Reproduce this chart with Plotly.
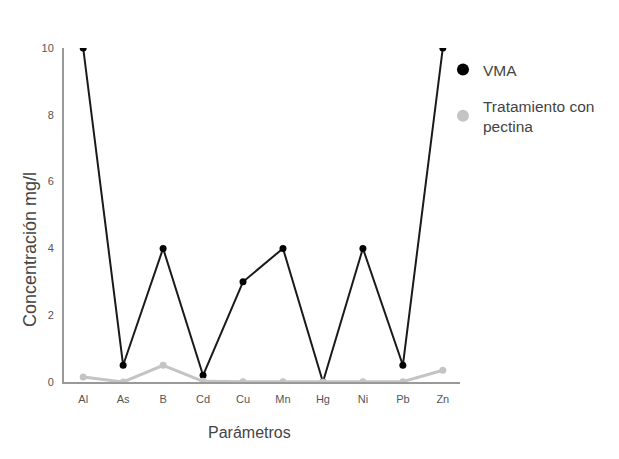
import plotly.graph_objects as go

categories = ["Al", "As", "B", "Cd", "Cu", "Mn", "Hg", "Ni", "Pb", "Zn"]
vma = [10, 0.5, 4, 0.2, 3, 4, 0.0, 4, 0.5, 10]
pectina = [0.15, 0.0, 0.5, 0.02, 0.01, 0.01, 0.0, 0.01, 0.01, 0.35]
y_ticks = [0, 2, 4, 6, 8, 10]

BLACK = "#000000"
GRAY = "#c4c4c4"
TEXT = "#444444"

fig = go.Figure()
fig.add_trace(go.Scatter(
    x=categories, y=vma, name="VMA", mode="lines+markers", showlegend=False,
    line=dict(color="#1a1a1a", width=2),
    marker=dict(color=BLACK, size=7),
))
fig.add_trace(go.Scatter(
    x=categories, y=pectina, name="Tratamiento con pectina", mode="lines+markers", showlegend=False,
    line=dict(color=GRAY, width=3),
    marker=dict(color=GRAY, size=7),
))
# legend entries (markers only, as in the reference)
fig.add_trace(go.Scatter(x=[None], y=[None], name="VMA", mode="markers",
                         marker=dict(color=BLACK, size=12), legend="legend"))
fig.add_trace(go.Scatter(x=[None], y=[None], name="Tratamiento con<br>pectina", mode="markers",
                         marker=dict(color=GRAY, size=12), legend="legend2"))

legend_common = dict(xanchor="left", yanchor="top", font=dict(size=15.5, color=TEXT),
                     itemsizing="constant", itemwidth=30, bgcolor="rgba(0,0,0,0)")

fig.update_layout(
    width=619, height=459,
    margin=dict(l=56, r=167, t=40, b=85),
    paper_bgcolor="white", plot_bgcolor="white",
    font=dict(family="Liberation Sans, Arial, sans-serif", color="#333333"),
    showlegend=True,
    legend=dict(x=0.957, y=0.985, **legend_common),
    legend2=dict(x=0.957, y=0.877, **legend_common),
    xaxis=dict(
        showline=True, linecolor="#999999", linewidth=2,
        showgrid=False, zeroline=False, ticks="",
        tickfont=dict(size=11, color="#555555"), ticklabelstandoff=6,
        range=[-0.48, 9.43],
    ),
    yaxis=dict(
        showline=True, linecolor="#999999", linewidth=2,
        showgrid=False, zeroline=False, ticks="",
        tickvals=y_ticks, range=[0, 10],
        tickfont=dict(size=11, color="#555555"), ticklabelstandoff=6,
    ),
    annotations=[
        dict(text="Parámetros", xref="paper", yref="paper", x=(249 - 64) / 396, y=0,
             xanchor="center", yanchor="middle", yshift=-50, showarrow=False,
             font=dict(size=16, color=TEXT)),
        dict(text="Concentración mg/l", xref="paper", yref="paper", x=0, y=(382 - 250) / 334,
             xanchor="center", yanchor="middle", xshift=-34, textangle=-90, showarrow=False,
             font=dict(size=18, color=TEXT)),
    ],
)

fig.write_html("out.html")
